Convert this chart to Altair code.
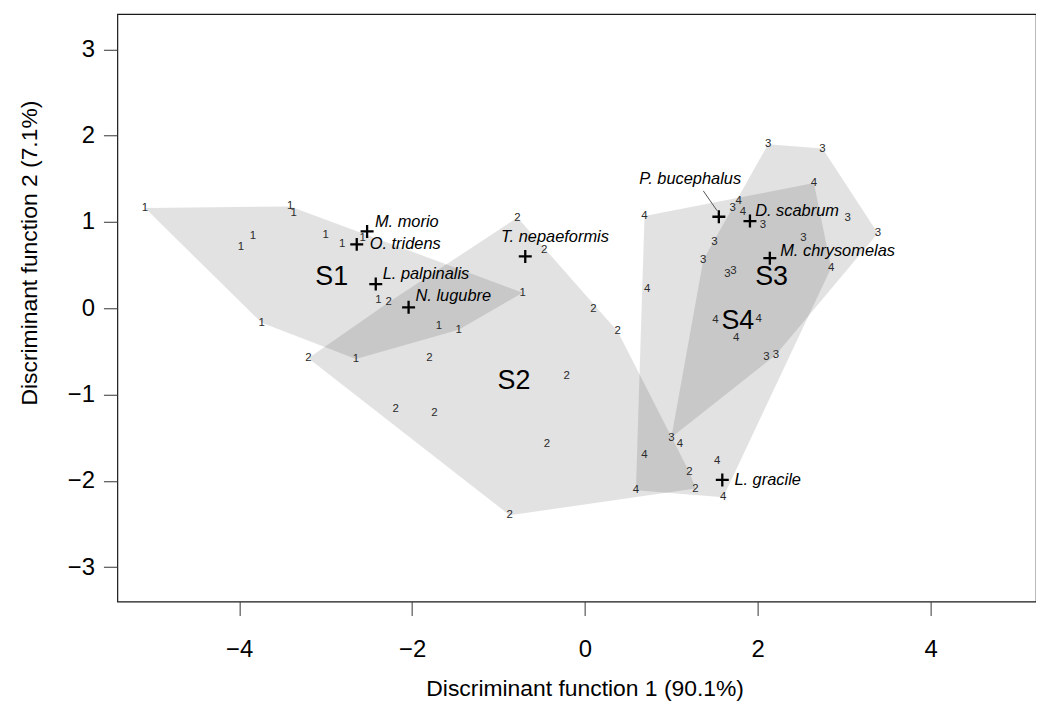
import altair as alt
import pandas as pd

# ---- observations (discriminant scores), by group ----
g1_x = [-5.09, -3.41, -3.37, -3.84, -3.98, -3.00, -2.81, -2.57, -3.74, -2.65, -2.39, -1.69, -1.46, -0.72]
g1_y = [1.16, 1.18, 1.10, 0.84, 0.71, 0.85, 0.74, 0.81, -0.17, -0.59, 0.10, -0.21, -0.25, 0.18]

g2_x = [-3.20, -2.27, -1.80, -2.19, -1.74, -0.21, -0.44, -0.87, -0.78, -0.47, 0.10, 0.38, 1.21, 1.28]
g2_y = [-0.58, 0.07, -0.58, -1.17, -1.22, -0.79, -1.57, -2.40, 1.05, 0.68, -0.01, -0.27, -1.90, -2.09]

g3_x = [2.12, 2.75, 1.71, 2.06, 3.04, 3.39, 1.50, 1.37, 2.53, 1.65, 1.72, 2.10, 2.21, 1.00]
g3_y = [1.90, 1.85, 1.16, 0.96, 1.05, 0.87, 0.77, 0.56, 0.81, 0.40, 0.43, -0.56, -0.54, -1.50]

g4_x = [0.69, 0.72, 2.65, 1.78, 1.83, 2.85, 1.51, 2.01, 1.75, 1.10, 0.69, 0.59, 1.53, 1.60]
g4_y = [1.07, 0.22, 1.45, 1.24, 1.11, 0.47, -0.14, -0.13, -0.34, -1.57, -1.70, -2.11, -1.77, -2.19]

groups = ["1", "2", "3", "4"]
group_x = [g1_x, g2_x, g3_x, g4_x]
group_y = [g1_y, g2_y, g3_y, g4_y]

# ---- group labels ----
grp_names = ["S1", "S2", "S3", "S4"]
grp_x = [-2.93, -0.82, 2.16, 1.77]
grp_y = [0.36, -0.85, 0.36, -0.15]

# ---- species centroids and their label anchors ----
sp_names = ["M. morio", "O. tridens", "L. palpinalis", "N. lugubre", "T. nepaeformis",
            "P. bucephalus", "D. scabrum", "M. chrysomelas", "L. gracile"]
sp_x = [-2.52, -2.64, -2.42, -2.04, -0.69, 1.55, 1.91, 2.14, 1.59]
sp_y = [0.89, 0.74, 0.28, 0.01, 0.60, 1.06, 1.01, 0.58, -1.99]
lab_x = [-2.43, -2.49, -2.34, -1.96, -0.97, 0.63, 1.97, 2.26, 1.73]
lab_y = [1.00, 0.74, 0.40, 0.14, 0.82, 1.50, 1.13, 0.66, -1.99]

# leader line for P. bucephalus
lead_x = [1.37]
lead_y = [1.36]
lead_x2 = [1.53]
lead_y2 = [1.13]

x_ticks = [-4, -2, 0, 2, 4]
y_ticks = [-3, -2, -1, 0, 1, 2, 3]


def convex_hull(xs, ys):
    pts = sorted(set(zip(xs, ys)))
    if len(pts) < 3:
        return pts

    def cross(o, a, b):
        return (a[0] - o[0]) * (b[1] - o[1]) - (a[1] - o[1]) * (b[0] - o[0])

    lower, upper = [], []
    for p in pts:
        while len(lower) >= 2 and cross(lower[-2], lower[-1], p) <= 0:
            lower.pop()
        lower.append(p)
    for p in reversed(pts):
        while len(upper) >= 2 and cross(upper[-2], upper[-1], p) <= 0:
            upper.pop()
        upper.append(p)
    return lower[:-1] + upper[:-1]


rows = []
hull_rows = []
for g, xs, ys in zip(groups, group_x, group_y):
    for x, y in zip(xs, ys):
        rows.append({"grp": g, "x": x, "y": y})
    for i, (x, y) in enumerate(convex_hull(xs, ys)):
        hull_rows.append({"grp": g, "ord": i, "x": x, "y": y})

pts_df = pd.DataFrame(rows)
hull_df = pd.DataFrame(hull_rows)
grp_df = pd.DataFrame({"name": grp_names, "x": grp_x, "y": grp_y})
sp_df = pd.DataFrame({"name": sp_names, "x": sp_x, "y": sp_y, "lx": lab_x, "ly": lab_y})
lead_df = pd.DataFrame({"x": lead_x, "y": lead_y, "x2": lead_x2, "y2": lead_y2})

FONT = "Liberation Sans"

xscale = alt.Scale(domain=[-5.41, 5.22], nice=False, zero=False)
yscale = alt.Scale(domain=[-3.40, 3.41], nice=False, zero=False)

xaxis = alt.Axis(values=x_ticks, title="Discriminant function 1 (90.1%)", grid=False, domain=False,
                 tickSize=14, tickColor="#333", labelFontSize=24, labelPadding=22,
                 labelColor="black", titleFontSize=23, titleFontWeight="normal",
                 titleColor="black", titleBaseline="alphabetic", titleY=94, titleX=470,
                 labelFont=FONT, titleFont=FONT)
yaxis = alt.Axis(values=y_ticks, title="Discriminant function 2 (7.1%)", grid=False, domain=False,
                 tickSize=14, tickColor="#333", labelFontSize=24, labelPadding=9,
                 labelColor="black", titleFontSize=23, titleFontWeight="normal",
                 titleColor="black", titleBaseline="middle", titleX=-88, titleY=240,
                 labelFont=FONT, titleFont=FONT)

X = alt.X("x:Q", scale=xscale, axis=xaxis)
Y = alt.Y("y:Q", scale=yscale, axis=yaxis)

hulls = alt.Chart(hull_df).mark_line(
    interpolate="linear-closed", fill="#000000", fillOpacity=0.115, strokeOpacity=0, strokeWidth=0
).encode(x=X, y=Y, detail="grp:N", order="ord:Q")

nums = alt.Chart(pts_df).mark_text(fontSize=11.5, color="#2a2a2a", font=FONT).encode(
    x=X, y=Y, text="grp:N")

plus = alt.Chart(sp_df).mark_point(
    shape="M-1,0L1,0M0,-1L0,1", size=170, strokeWidth=2.3, color="black", filled=False, opacity=1
).encode(x=X, y=Y)

sp_labels = alt.Chart(sp_df).mark_text(
    fontSize=16.5, fontStyle="italic", font=FONT, color="black", align="left", baseline="middle"
).encode(x=alt.X("lx:Q", scale=xscale, axis=xaxis), y=alt.Y("ly:Q", scale=yscale, axis=yaxis), text="name:N")

leader = alt.Chart(lead_df).mark_rule(color="#555", strokeWidth=1).encode(
    x=X, y=Y, x2="x2:Q", y2="y2:Q")

grp_labels = alt.Chart(grp_df).mark_text(
    fontSize=27, font=FONT, color="black", align="center", baseline="middle"
).encode(x=X, y=Y, text="name:N")

chart = alt.layer(hulls, nums, leader, plus, sp_labels, grp_labels).properties(
    width=924, height=591,
    autosize=alt.AutoSizeParams(type="none"),
    padding={"left": 110, "top": 4, "right": 0, "bottom": 98},
).configure(font=FONT, background="white").configure_view(stroke="#1a1a1a", strokeWidth=1.2)

chart.save("out.html", embed_options={"renderer": "svg", "actions": False})
